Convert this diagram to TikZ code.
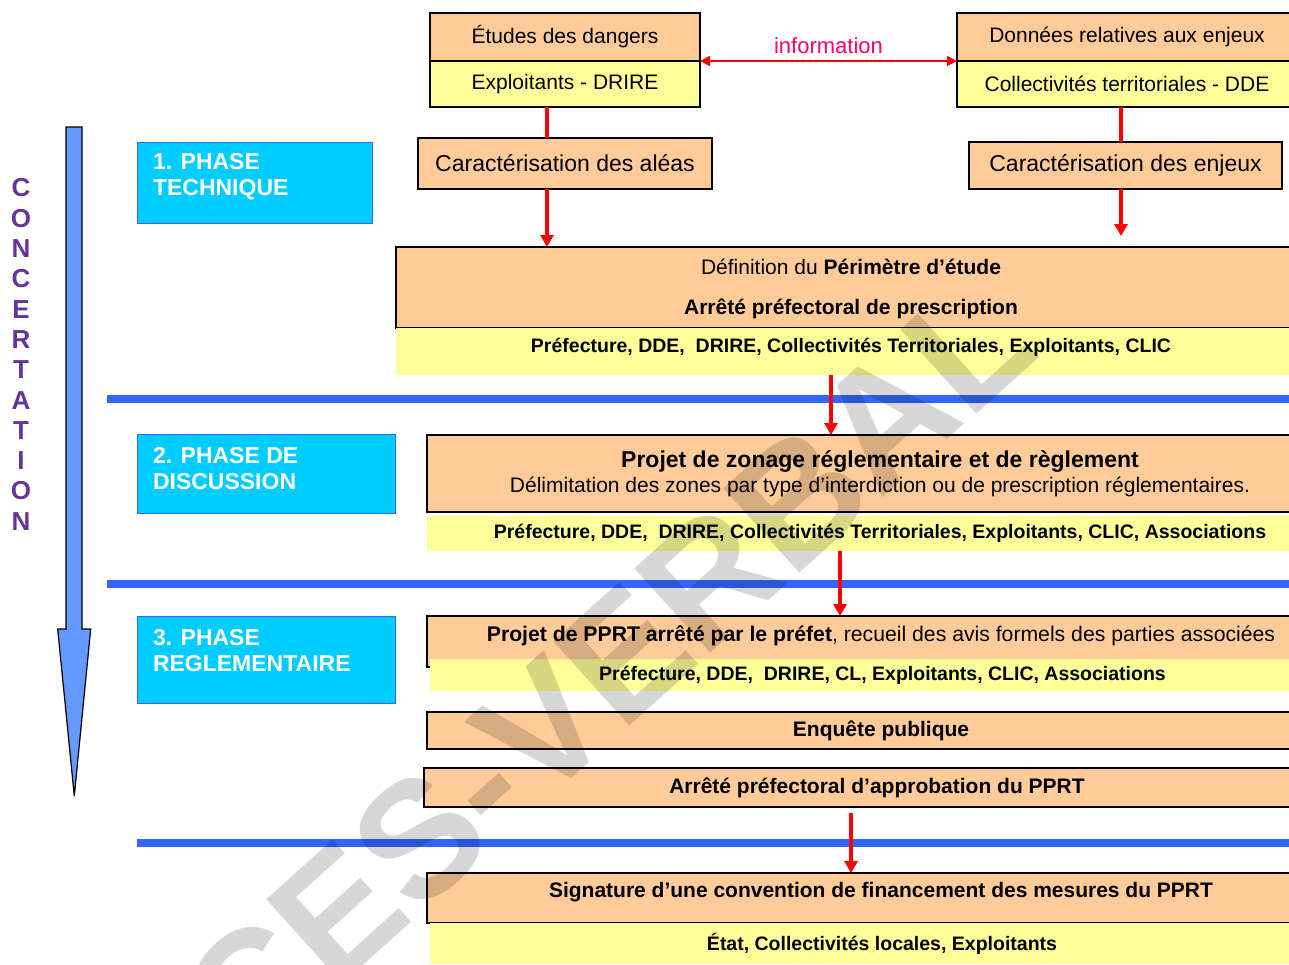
\documentclass[tikz,border=0pt]{standalone}
\usepackage{fontspec}
\setmainfont{Liberation Sans}
\usetikzlibrary{arrows.meta}
\definecolor{orangeC}{RGB}{255,204,153}
\definecolor{yellowC}{RGB}{255,255,153}
\definecolor{cyanC}{RGB}{0,204,255}
\definecolor{blueL}{RGB}{51,102,255}
\definecolor{arrowC}{RGB}{102,153,255}
\definecolor{redC}{RGB}{255,0,0}
\definecolor{infoC}{RGB}{255,0,102}
\definecolor{purpleC}{RGB}{102,51,153}
\newcommand{\myfs}[1]{\fontsize{#1}{#1}\selectfont}
\begin{document}
\begin{tikzpicture}[x=1pt,y=-1pt,
  every node/.style={inner sep=0pt, outer sep=0pt},
  obox/.style={draw=black, line width=1.2pt, fill=orangeC, anchor=north west, align=center},
  ybox/.style={fill=yellowC, anchor=north west, align=center},
  ybordbox/.style={draw=black, line width=1.2pt, fill=yellowC, anchor=north west, align=center},
  phasebox/.style={fill=cyanC, draw=blueL, line width=1pt, anchor=north west},
  phasetext/.style={anchor=west, align=left, text=white, font=\bfseries\fontsize{23}{26}\selectfont},
  conc/.style={text=purpleC, font=\bfseries\myfs{26}},
  sepline/.style={draw=blueL, line width=8pt},
  redline/.style={draw=redC, line width=4pt},
  redarrow/.style={draw=redC, line width=3.5pt, -{Triangle[length=12pt,width=13pt]}},
  infoarrow/.style={draw=redC, line width=1.6pt, {Triangle[length=10pt,width=10pt]}-{Triangle[length=10pt,width=10pt]}},
  bigarrow/.style={fill=arrowC, draw=black, line width=1.2pt, line join=miter},
  watermark/.style={text=black, opacity=0.16, font=\bfseries\myfs{165}}
]
\useasboundingbox (0,0) rectangle (1289,964);
\fill[white] (0,0) rectangle (1289,964);

% concertation arrow and letters
\draw[bigarrow] (66,127) -- (82,127) -- (82,629) -- (90.7,629) -- (74.3,796) -- (57.7,629) -- (66,629) -- cycle;
\foreach \l [count=\i] in {C,O,N,C,E,R,T,A,T,I,O,N}
  \node[conc] (c\i) at (21,{188+30.3*(\i-1)}) {\l};

% separators
\draw[sepline] (107,399) -- (1289,399);
\draw[sepline] (107,584) -- (1289,584);
\draw[sepline] (137,843) -- (1289,843);

% phase boxes
\node[phasebox, minimum width=235pt, minimum height=81pt] (ph1) at (137,142) {};
\node[phasetext] (ph1t) at (153,177) {1. PHASE\\TECHNIQUE};
\node[phasebox, minimum width=258pt, minimum height=79pt] (ph2) at (137,434) {};
\node[phasetext] (ph2t) at (153,468.5) {2. PHASE DE\\DISCUSSION};
\node[phasebox, minimum width=258pt, minimum height=87pt] (ph3) at (137,616) {};
\node[phasetext] (ph3t) at (153,650.5) {3. PHASE\\REGLEMENTAIRE};

% top boxes
\node[obox, minimum width=270pt, minimum height=48pt, font=\myfs{21}] (etudesT) at (430,13) {Études des dangers};
\node[ybordbox, minimum width=270pt, minimum height=46pt, font=\myfs{21}] (etudesB) at (430,61) {Exploitants - DRIRE};
\node[obox, minimum width=340pt, minimum height=48pt, font=\myfs{21}] (donT) at (957,13) {Données relatives aux enjeux};
\node[ybordbox, minimum width=340pt, minimum height=46pt, font=\myfs{21}] (donB) at (957,61) {Collectivités territoriales - DDE};
\draw[infoarrow] (etudesB.north east) -- (donB.north west)
  node[midway, above=7pt, text=infoC, font=\myfs{22}] (infolab) {information};

\node[obox, minimum width=294pt, minimum height=51pt, font=\myfs{23}] (aleas) at (418,138) {Caractérisation des aléas};
\node[obox, minimum width=313pt, minimum height=47pt, font=\myfs{23}] (enjeux) at (969,142) {Caractérisation des enjeux};

% phase 1 main box
\node[obox, minimum width=910pt, minimum height=81pt] (defT) at (396,247) {};
\node[font=\myfs{21}, align=center] (defTt) at (851,289)
  {Définition du \textbf{Périmètre d’étude}\\[19pt]\textbf{Arrêté préfectoral de prescription}};
\node[ybox, minimum width=910pt, minimum height=47pt] (defB) at (396,328) {};
\node[font=\bfseries\myfs{19.5}] (defBt) at (851,347) {Préfecture, DDE,~ DRIRE, Collectivités Territoriales, Exploitants, CLIC};

% phase 2
\node[obox, minimum width=906pt, minimum height=77pt, font=\myfs{21}] (zonT) at (427,435)
  {{\bfseries\fontsize{23}{23}\selectfont Projet de zonage réglementaire et de règlement}\\[4pt]Délimitation des zones par type d’interdiction ou de prescription réglementaires.};
\node[ybox, minimum width=906pt, minimum height=35pt, font=\bfseries\myfs{19.5}] (zonB) at (427,516)
  {Préfecture, DDE,~ DRIRE, Collectivités Territoriales, Exploitants, CLIC, Associations};

% phase 3
\node[obox, minimum width=908pt, minimum height=51pt] (pprtT) at (427,616) {};
\node[font=\myfs{21.2}] (pprtTt) at (881,636) {\textbf{Projet de PPRT arrêté par le préfet}, recueil des avis formels des parties associées};
\node[ybox, minimum width=905pt, minimum height=32pt, font=\bfseries\myfs{19.5}] (pprtB) at (430,659)
  {Préfecture, DDE,~ DRIRE, CL, Exploitants, CLIC, Associations};
\node[obox, minimum width=908pt, minimum height=37pt, font=\bfseries\myfs{21}] (enq) at (427,712) {Enquête publique};
\node[obox, minimum width=906pt, minimum height=39pt, font=\bfseries\myfs{21}] (arr) at (424,768) {Arrêté préfectoral d’approbation du PPRT};

% final
\node[obox, minimum width=908pt, minimum height=50pt] (sigT) at (427,873) {};
\node[font=\bfseries\myfs{21}] (sigTt) at (881,892) {Signature d’une convention de financement des mesures du PPRT};
\node[ybox, minimum width=904pt, minimum height=41pt, font=\bfseries\myfs{19.5}] (sigB) at (430,923)
  {État, Collectivités locales, Exploitants};

% connectors
\coordinate (xa) at (547,0);
\coordinate (xb) at (1121,0);
\coordinate (xc) at (831,0);
\coordinate (xd) at (840,0);
\coordinate (xe) at (851,0);
\draw[redline] (etudesB.south -| xa) -- (aleas.north -| xa);
\draw[redline] (donB.south -| xb) -- (enjeux.north -| xb);
\draw[redarrow] (aleas.south -| xa) -- (defT.north -| xa);
\draw[redarrow, shorten >=11pt] (enjeux.south -| xb) -- (defT.north -| xb);
\draw[redarrow] (defB.south -| xc) -- (zonT.north -| xc);
\draw[redarrow] (zonB.south -| xd) -- (pprtT.north -| xd);
\draw[redarrow, shorten <=6pt] (arr.south -| xe) -- (sigT.north -| xe);

% watermark
\node[watermark, rotate=42, anchor=base] (wm) at (512,832) {PROCES-VERBAL};
\end{tikzpicture}
\end{document}
